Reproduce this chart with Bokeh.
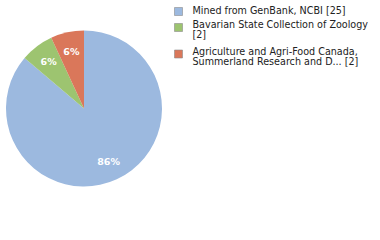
import math
from bokeh.plotting import figure
from bokeh.models import Range1d, ColumnDataSource
from bokeh.core.properties import value
from bokeh.embed import file_html
from bokeh.resources import INLINE

names = ["Mined from GenBank, NCBI", "Bavarian State Collection of Zoology",
         "Agriculture and Agri-Food Canada, Summerland Research and D..."]
counts = [25, 2, 2]
pct_labels = ["86%", "6%", "6%"]
legend_lines = [["Mined from GenBank, NCBI [25]"],
                ["Bavarian State Collection of Zoology", "[2]"],
                ["Agriculture and Agri-Food Canada,", "Summerland Research and D... [2]"]]
colors = ["#9cb9df", "#9dc470", "#da775a"]

W, H = 380, 240
p = figure(width=W, height=H, output_backend="svg", toolbar_location=None,
           x_range=Range1d(0, W), y_range=Range1d(0, H), min_border=0)
p.axis.visible = False
p.grid.visible = False
p.outline_line_color = None
p.background_fill_color = "white"

cx, cy, r = 83.5, H - 108, 78
total = sum(counts)
a = math.pi / 2
st = [0] * 3
en = [0] * 3
for i in list(range(len(counts)))[::-1]:
    span = counts[i] / total * 2 * math.pi
    st[i] = a
    en[i] = a + span
    a += span
src = ColumnDataSource(dict(s=st, e=en, c=colors))
p.wedge(x=cx, y=cy, radius=r, start_angle="s", end_angle="e", color="c",
        line_color=None, source=src)

for i in range(3):
    mid = (st[i] + en[i]) / 2
    rr = r * 0.75
    p.text(x=[cx + rr * math.cos(mid)], y=[cy + rr * math.sin(mid)], text=[pct_labels[i]],
           text_color="white", text_font=value("DejaVu Sans"), text_font_size="9.5px",
           text_font_style="bold", text_align="center", text_baseline="middle")

row_y = [9.5, 23.5, 50.5]
sq_y = [11, 27, 53.5]
for i, lines in enumerate(legend_lines):
    p.rect(x=[178], y=[H - sq_y[i]], width=8, height=8,
           fill_color=colors[i], line_color="#8c8c8c", line_width=0.6)
    for j, t in enumerate(lines):
        p.text(x=[192], y=[H - row_y[i] - j * 10.5], text=[t], text_color="#222222",
               text_font=value("DejaVu Sans"), text_font_size="9.6px",
               text_baseline="middle", text_align="left")

open("out.html", "w").write(file_html(p, INLINE))
